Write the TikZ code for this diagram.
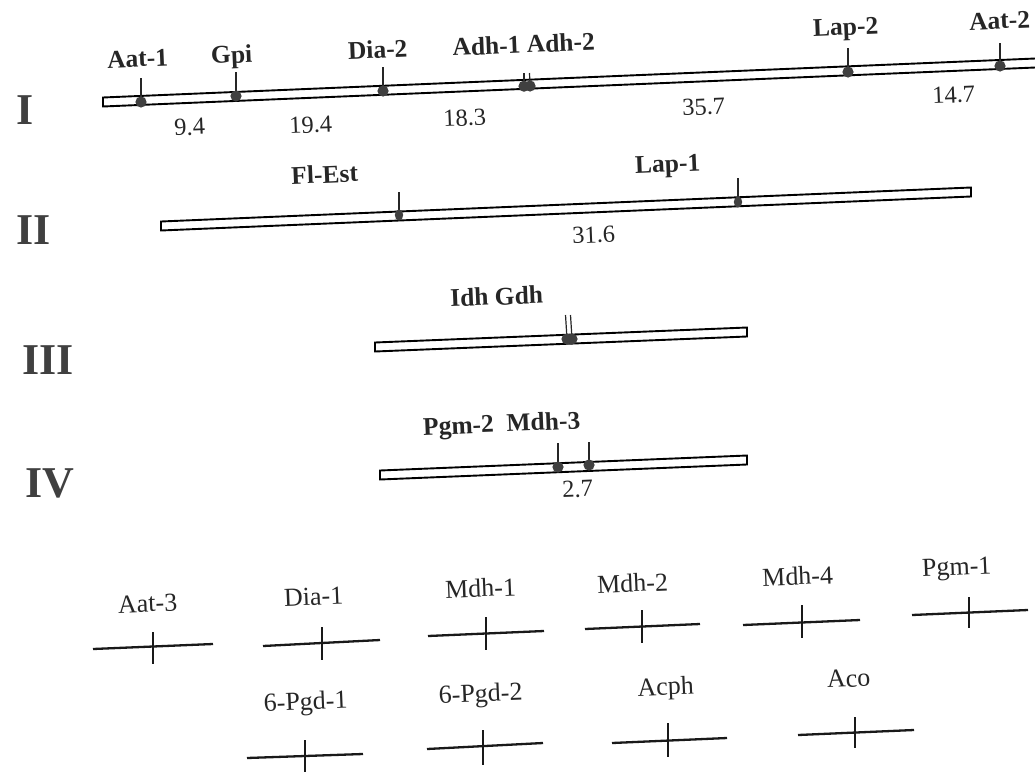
\documentclass[tikz,border=0pt]{standalone}
\usepackage{fontspec}
\setmainfont{Liberation Serif}
\begin{document}
\begin{tikzpicture}[x=1pt,y=-1pt,
 bar/.style={draw=black, fill=white, line width=1.9pt, line join=miter},
 tickline/.style={line width=1.8pt, draw=black!85},
 thintick/.style={line width=1.2pt, draw=black!85},
 dotc/.style={fill=black!75},
 boldlab/.style={font=\fontsize{25.5}{30}\selectfont\bfseries, anchor=base, inner sep=0pt, rotate=2.4, text=black!85},
 reglab/.style={font=\fontsize{26}{30}\selectfont, anchor=base, inner sep=0pt, rotate=2.4, text=black!85},
 numlab/.style={font=\fontsize{24.5}{28}\selectfont, anchor=base, inner sep=0pt, rotate=2.4, text=black!85},
 roman/.style={font=\fontsize{44}{50}\selectfont\bfseries, text=black!75, inner sep=0pt},
 unl/.style={line width=2.3pt, draw=black!90},
 unltick/.style={line width=1.2pt, draw=black!90}]
\useasboundingbox (0,0) rectangle (1035,771);
\fill[white] (0,0) rectangle (1035,771);
\clip (0,0) rectangle (1035,771);

% Roman numerals
\node[roman] (rI) at (25,110) {I};
\node[roman] (rII) at (34,230) {II};
\node[roman] (rIII) at (48,360) {III};
\node[roman] (rIV) at (50,483) {IV};

% ---------- Linkage group I ----------
\draw[bar] (103,97.5) -- (1045,58.1) -- (1045,67.1) -- (103,106.5) -- cycle;
\foreach \n/\x/\y/\t in {aa/141/102/78, gp/236/96/72, dd/383/91/67, lb/848/72/48, ab/1000/66/43}{
  \coordinate (d\n) at (\x,\y);
  \coordinate (t\n) at (\x,\t);
  \draw[tickline] (d\n) -- (t\n);
  \fill[dotc] (d\n) circle (5.6);
}
\coordinate (dAdhA) at (524,86.2);
\coordinate (dAdhB) at (530,86);
\coordinate (tAdhA) at (524,73);
\coordinate (tAdhB) at (529.5,73);
\draw[thintick] (dAdhA) -- (tAdhA);
\draw[thintick] (dAdhB) -- (tAdhB);
\fill[dotc] (dAdhA) circle (5.6);
\fill[dotc] (dAdhB) circle (5.6);

\node[boldlab] (lAat1) at (138,67) {Aat-1};
\node[boldlab] (lGpi) at (232,63) {Gpi};
\node[boldlab] (lDia2) at (378,58) {Dia-2};
\node[boldlab] (lAdh) at (524,53) {Adh-1 Adh-2};
\node[boldlab] (lLap2) at (846,35) {Lap-2};
\node[boldlab] (lAat2) at (1000,29) {Aat-2};

\node[numlab] (n1) at (190,135) {9.4};
\node[numlab] (n2) at (311,133) {19.4};
\node[numlab] (n3) at (465,126) {18.3};
\node[numlab] (n4) at (704,115) {35.7};
\node[numlab] (n5) at (954,103) {14.7};

% ---------- Linkage group II ----------
\draw[bar] (161,221.5) -- (971,187.5) -- (971,196.5) -- (161,230.5) -- cycle;
\foreach \n/\x/\y/\t in {fe/399/215/192, la/738/202/178}{
  \coordinate (d\n) at (\x,\y);
  \coordinate (t\n) at (\x,\t);
  \draw[thintick] (d\n) -- (t\n);
  \fill[dotc] (d\n) ellipse (4.2 and 5.6);
}
\node[boldlab] (lFl) at (325,183) {Fl-Est};
\node[boldlab] (lLap1) at (668,172) {Lap-1};
\node[numlab] (n6) at (594,243) {31.6};

% ---------- Linkage group III ----------
\draw[bar] (375,342.5) -- (747,327.5) -- (747,336.5) -- (375,351.5) -- cycle;
\coordinate (dIdh) at (567,339);
\coordinate (dGdh) at (572,339);
\coordinate (tIdh) at (565.5,315);
\coordinate (tGdh) at (570.5,315);
\draw[thintick] (dIdh) -- (tIdh);
\draw[thintick] (dGdh) -- (tGdh);
\fill[dotc] (dIdh) circle (5.6);
\fill[dotc] (dGdh) circle (5.6);
\node[boldlab] (lIdh) at (497,305) {Idh Gdh};

% ---------- Linkage group IV ----------
\draw[bar] (380,470.5) -- (747,455.5) -- (747,464.5) -- (380,479.5) -- cycle;
\foreach \n/\x/\y/\t in {pg/558/467/443, md/589/465/442}{
  \coordinate (d\n) at (\x,\y);
  \coordinate (t\n) at (\x,\t);
  \draw[thintick] (d\n) -- (t\n);
  \fill[dotc] (d\n) circle (5.6);
}
\node[boldlab] (lPgm) at (502,432) {Pgm-2\enspace Mdh-3};
\node[numlab] (n7) at (578,497) {2.7};

% ---------- Unlinked loci ----------
\foreach \n/\txt/\lx/\ly/\xa/\ya/\xb/\yb/\tx/\ta/\tb in {
  u1/Aat-3/148/612/93/649/213/644/153/632/664,
  u2/Dia-1/314/605/263/646/380/640/322/627/660,
  u3/Mdh-1/481/597/428/636/544/631/486/617/650,
  u4/Mdh-2/633/592/585/629/700/624/642/610/643,
  u5/Mdh-4/798/585/743/625/860/620/802/605/638,
  u6/Pgm-1/957/575/912/615/1028/610/969/597/628,
  u7/6-Pgd-1/306/710/247/758/363/754/305/740/776,
  u8/6-Pgd-2/481/702/427/749/543/743/483/730/765,
  u9/Acph/666/695/612/743/727/738/668/723/757,
  u10/Aco/849/687/798/735/914/730/855/717/748}{
  \node[reglab] (l\n) at (\lx,\ly) {\txt};
  \coordinate (a\n) at (\xa,\ya);
  \coordinate (b\n) at (\xb,\yb);
  \coordinate (p\n) at (\tx,\ta);
  \coordinate (q\n) at (\tx,\tb);
  \draw[unl] (a\n) -- (b\n);
  \draw[unltick] (p\n) -- (q\n);
}
\end{tikzpicture}
\end{document}
